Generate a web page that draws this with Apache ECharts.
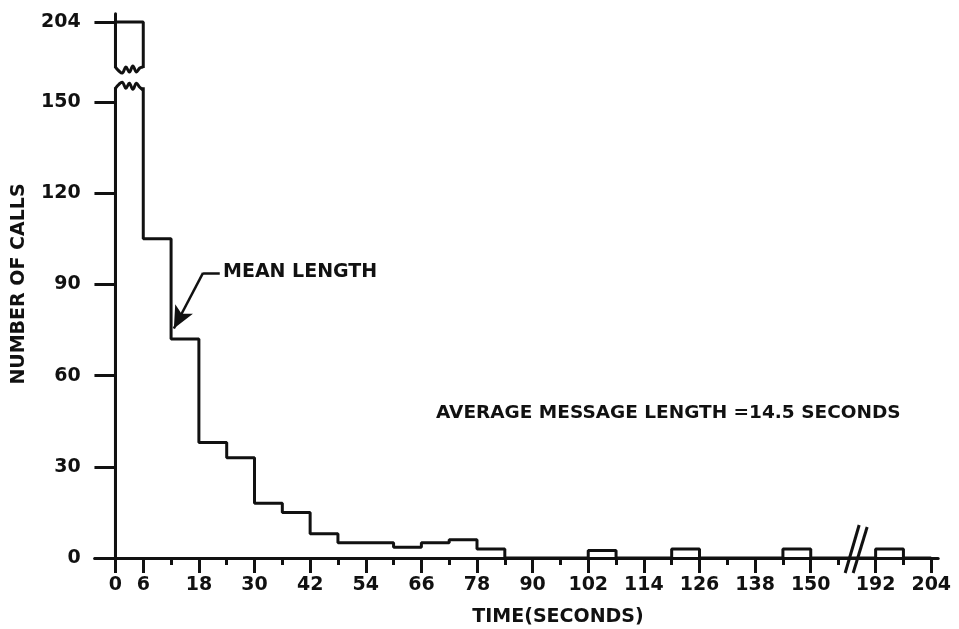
<!DOCTYPE html>
<html><head><meta charset="utf-8">
<script src="https://cdn.jsdelivr.net/npm/echarts@6/dist/echarts.min.js"></script>
<style>html,body{margin:0;padding:0;background:#fff}#c{width:959px;height:629px}</style>
</head><body><div id="c"></div>
<script>
// ---- data ----
const binStarts = [0,6,12,18,24,30,36,42,48,54,60,66,72,78,84,90,96,102,108,114,120,126,132,138,144,150,156,186,192,198];
const callCounts = [204,105,72,38,33,18,15,8,5,5,3.5,5,6,3,0,0,0,2.5,0,0,3,0,0,0,3,0,0,0,3,0];
const lastBinEnd = 204;
const xTickLabels = [0,6,18,30,42,54,66,78,90,102,114,126,138,150,192,204];
const xMinorTicks = [12,24,36,48,60,72,84,96,108,120,132,144,156,198];
const yTickLabels = [0,30,60,90,120,150,204];
const titleText = 'AVERAGE MESSAGE LENGTH =14.5 SECONDS';
const meanText = 'MEAN LENGTH';
const xTitle = 'TIME(SECONDS)';
const yTitle = 'NUMBER OF CALLS';

// ---- broken-axis transforms ----
const X_BREAK = 160, X_SKIP = 28;      // time axis jumps from ~158 s to 186 s
const Y_BREAK = 160, Y_SKIP = 27.7;    // count axis jumps to 204
const tx = t => t <= X_BREAK ? t : t - X_SKIP;
const cy = c => c <= Y_BREAK ? c : c - Y_SKIP;

const INK = '#111';
const FONT = '"DejaVu Sans", sans-serif';
const key = v => Number(v).toFixed(2);
const xLabelMap = new Map(xTickLabels.map(t => [key(tx(t)), String(t)]));
const yLabelMap = new Map(yTickLabels.map(c => [key(cy(c)), String(c)]));

const stepPoints = [[tx(binStarts[0]), 0]]
  .concat(binStarts.map((t, i) => [tx(t), cy(callCounts[i])]))
  .concat([[tx(lastBinEnd), 0]]);

const chart = echarts.init(document.getElementById('c'), null, {renderer: 'canvas'});
const labelStyle = {fontFamily: FONT, fontSize: 19, fontWeight: 'bold', color: INK};

chart.setOption({
  animation: false,
  backgroundColor: '#fff',
  grid: {left: 94.6, right: 20.8, top: 13.8, bottom: 71},
  xAxis: [{
    type: 'value', min: -4.5, max: 177.5,
    axisLine: {show: true, onZero: true, lineStyle: {color: INK, width: 3}},
    axisTick: {show: true, length: 15, lineStyle: {color: INK, width: 3}, customValues: xTickLabels.map(tx)},
    axisLabel: Object.assign({show: true, margin: 18, customValues: xTickLabels.map(tx),
      formatter: v => xLabelMap.get(key(v)) || ''}, labelStyle),
    splitLine: {show: false}
  }, {
    type: 'value', min: -4.5, max: 177.5, position: 'bottom',
    axisLine: {show: false},
    axisTick: {show: true, length: 7, lineStyle: {color: INK, width: 3}, customValues: xMinorTicks.map(tx)},
    axisLabel: {show: false},
    splitLine: {show: false}
  }],
  yAxis: {
    type: 'value', min: 0, max: 179,
    axisLine: {show: true, onZero: true, lineStyle: {color: INK, width: 3}},
    axisTick: {show: true, length: 21, lineStyle: {color: INK, width: 3}, customValues: yTickLabels.map(cy)},
    axisLabel: Object.assign({show: true, margin: 14, customValues: yTickLabels.map(cy),
      formatter: v => yLabelMap.get(key(v)) || ''}, labelStyle),
    splitLine: {show: false}
  },
  series: [{
    type: 'line', xAxisIndex: 0, yAxisIndex: 0,
    step: 'end', data: stepPoints, showSymbol: false, symbol: 'none',
    lineStyle: {color: INK, width: 3},
    z: 5,
    markLine: {
      silent: true, animation: false,
      label: {show: false},
      lineStyle: {type: 'solid', color: INK, width: 2.5},
      data: [
        [{coord: [22.5, 93.8], symbol: 'none'}, {coord: [18.9, 93.8], symbol: 'none'}],
        [{coord: [18.9, 93.8], symbol: 'none'}, {coord: [12.6, 75.5], symbol: 'arrow', symbolSize: [15, 22]}]
      ]
    }
  }]
});

// ---- break decorations and texts ----
const P = (x, y) => chart.convertToPixel({xAxisIndex: 0, yAxisIndex: 0}, [x, y]);
const [xl, yUp] = P(tx(0), 161.5);
const [xr, yLo] = P(tx(6), 154.5);
function wave(y0, offs) {
  const pts = [];
  for (let i = 0; i < offs.length; i++) pts.push([xl + (xr - xl) * i / (offs.length - 1), y0 + offs[i]]);
  return pts;
}
const [bx, by] = P(159.8, 0);
const txtFont = s => 'bold ' + s + 'px ' + FONT;
chart.setOption({
  graphic: [
    {type: 'rect', z: 100, shape: {x: xl - 5, y: yUp + 1, width: xr - xl + 10, height: yLo - yUp - 2}, style: {fill: '#fff'}},
    {type: 'polyline', z: 101, shape: {points: wave(yUp, [0, 4, 6, 0, 5, -1, 5, 1, 0]), smooth: 0.4}, style: {stroke: INK, lineWidth: 3, fill: null}},
    {type: 'polyline', z: 101, shape: {points: wave(yLo, [0, -4, -6, 0, -5, 1, -5, -1, 2]), smooth: 0.4}, style: {stroke: INK, lineWidth: 3, fill: null}},
    {type: 'line', z: 101, shape: {x1: bx - 11, y1: by + 15, x2: bx + 3, y2: by - 33}, style: {stroke: INK, lineWidth: 3}},
    {type: 'line', z: 101, shape: {x1: bx - 3, y1: by + 15, x2: bx + 11, y2: by - 31}, style: {stroke: INK, lineWidth: 3}},
    {type: 'text', z: 101, x: 223, y: 272.5, style: {text: meanText, font: txtFont(19), fill: INK, align: 'left', verticalAlign: 'middle'}},
    {type: 'text', z: 101, x: 436, y: 413.5, style: {text: titleText, font: txtFont(18.5), fill: INK, align: 'left', verticalAlign: 'middle'}},
    {type: 'text', z: 101, x: 558, y: 617, style: {text: xTitle, font: txtFont(19), fill: INK, align: 'center', verticalAlign: 'middle'}},
    {type: 'text', z: 101, x: 19, y: 284, rotation: Math.PI / 2, style: {text: yTitle, font: txtFont(19), fill: INK, align: 'center', verticalAlign: 'middle'}}
  ]
});
</script>
</body></html>
